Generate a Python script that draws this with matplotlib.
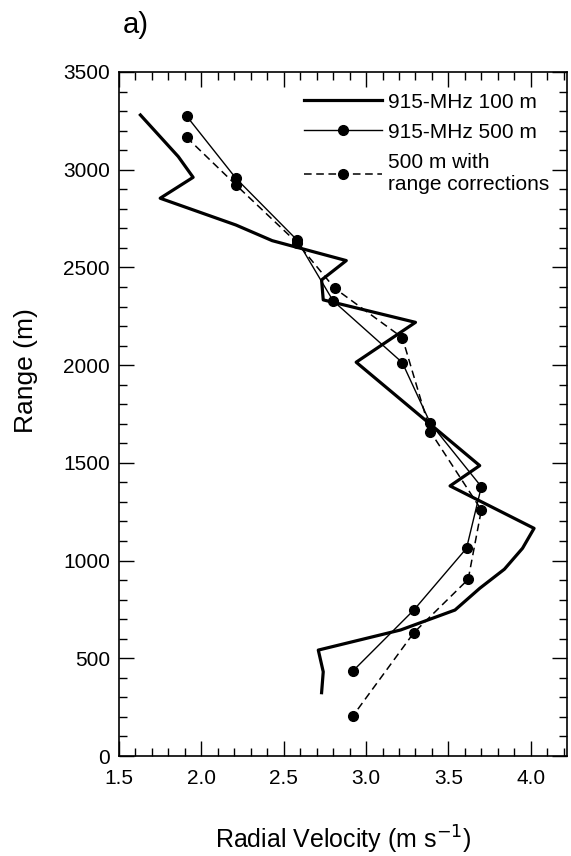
import matplotlib
matplotlib.use("Agg")
import matplotlib.pyplot as plt
from matplotlib.ticker import MultipleLocator

plt.rcParams['font.family'] = ['Liberation Sans', 'DejaVu Sans']

# 915-MHz, 100 m resolution (thick line)
v_100 = [1.63, 1.86, 1.95, 1.75, 2.21, 2.43, 2.88, 2.73, 2.74, 3.30, 2.94,
         3.69, 3.51, 4.02, 3.95, 3.84, 3.69, 3.54, 3.21, 2.71, 2.74, 2.73]
r_100 = [3280, 3067, 2961, 2854, 2717, 2637, 2535, 2436, 2334, 2219, 2015,
         1486, 1382, 1165, 1063, 956, 858, 747, 645, 542, 431, 324]

# 915-MHz, 500 m resolution (thin line with dots)
v_500 = [1.91, 2.21, 2.58, 2.80, 3.22, 3.39, 3.70, 3.61, 3.29, 2.92]
r_500 = [3275, 2956, 2641, 2329, 2013, 1703, 1378, 1063, 747, 435]

# 500 m with range corrections (dashed with dots)
v_corr = [1.91, 2.21, 2.58, 2.81, 3.22, 3.39, 3.70, 3.62, 3.29, 2.92]
r_corr = [3166, 2922, 2627, 2393, 2141, 1660, 1259, 904, 631, 205]

fig = plt.figure(figsize=(5.71, 8.56), dpi=100)
ax = fig.add_axes([0.2084, 0.1168, 0.7846, 0.7991])

ax.plot(v_100, r_100, color='black', lw=2.3, label='915-MHz 100 m')
ax.plot(v_500, r_500, color='black', lw=1.0, marker='o', markersize=7,
        label='915-MHz 500 m')
ax.plot(v_corr, r_corr, color='black', lw=1.1, ls=(0, (5, 3)), marker='o',
        markersize=7, label='500 m with\nrange corrections')

ax.set_xlim(1.5, 4.22)
ax.set_ylim(0, 3500)
ax.xaxis.set_major_locator(MultipleLocator(0.5))
ax.xaxis.set_minor_locator(MultipleLocator(0.1))
ax.yaxis.set_major_locator(MultipleLocator(500))
ax.yaxis.set_minor_locator(MultipleLocator(100))
ax.xaxis.set_major_formatter(plt.FormatStrFormatter('%.1f'))

ax.tick_params(which='both', direction='in', top=True, right=True,
               labelsize=15, width=1.0)
ax.tick_params(which='major', length=11)
ax.tick_params(which='minor', length=5.5)
ax.tick_params(axis='x', pad=9)
ax.tick_params(axis='y', pad=6.5)
for s in ax.spines.values():
    s.set_linewidth(1.2)

ax.set_xlabel('Radial Velocity (m s$^{-1}$)', fontsize=18, labelpad=26)
ax.set_ylabel('Range (m)', fontsize=19, labelpad=18, y=0.563)

ax.legend(loc='upper right', bbox_to_anchor=(0.96, 0.97), frameon=False,
          fontsize=15, handlelength=3.7, handletextpad=0.3, labelspacing=0.54,
          borderpad=0, borderaxespad=0)

fig.text(0.215, 0.971, 'a)', fontsize=21, ha='left', va='center')

fig.savefig('out.png', dpi=100)
